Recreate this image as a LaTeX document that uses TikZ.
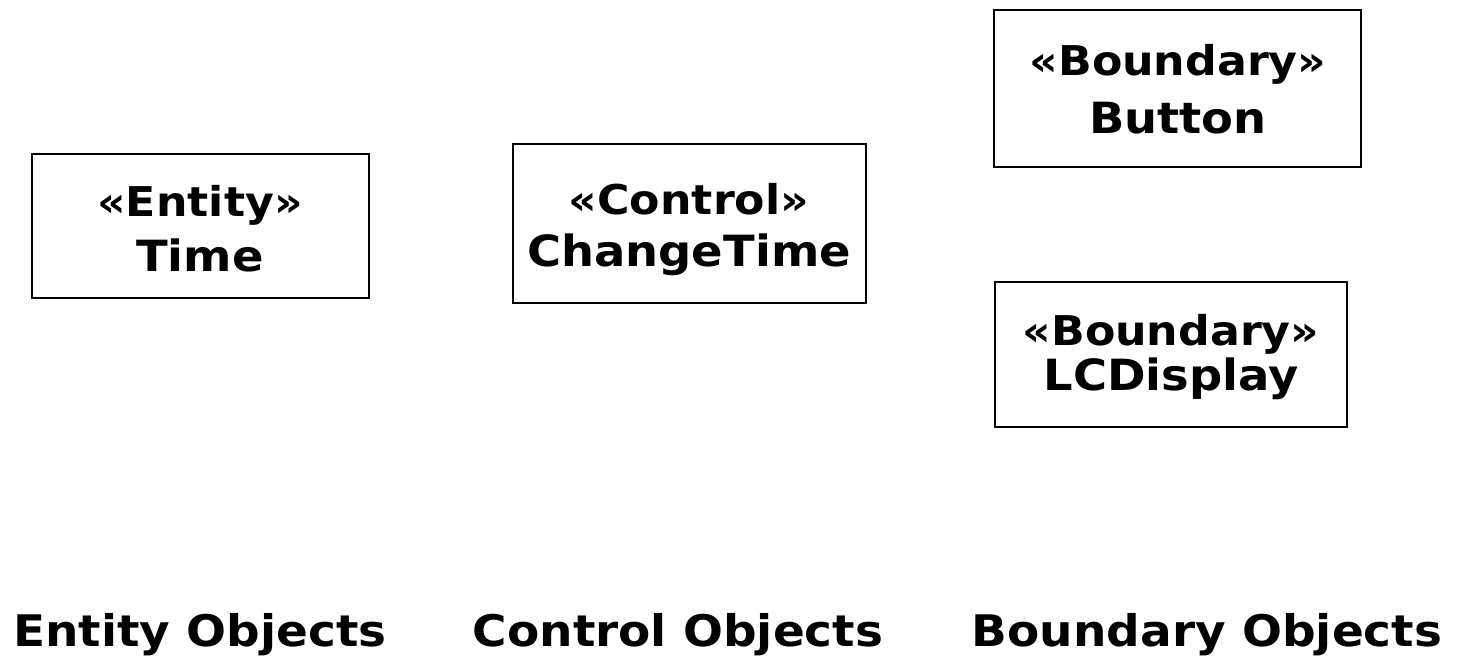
\documentclass[tikz,border=0pt]{standalone}
\usepackage{fontspec}
\setmainfont{DejaVu Sans}[FakeStretch=1.08]
\begin{document}
\begin{tikzpicture}[x=1pt,y=-1pt,
  classbox/.style={draw=black,line width=2.2pt,fill=white},
  stereo/.style={anchor=base,inner sep=0pt,font=\fontsize{41}{44}\selectfont\bfseries},
  cname/.style={anchor=base,inner sep=0pt,font=\fontsize{43}{46}\selectfont\bfseries},
  caption/.style={anchor=base,inner sep=0pt,font=\fontsize{43.5}{46}\selectfont\bfseries}]
\useasboundingbox[fill=white] (0,0) rectangle (1458,657);

% class boxes
\draw[classbox] (32,154) rectangle (369,298);
\draw[classbox] (513,144) rectangle (866,303);
\draw[classbox] (994,10) rectangle (1361,167);
\draw[classbox] (995,282) rectangle (1347,427);

% entity
\node[stereo] (entS) at (200,216) {«Entity»};
\node[cname] (entN) at (200,271) {Time};
% control
\node[stereo] (ctlS) at (689,214) {«Control»};
\node[cname] (ctlN) at (689,266) {ChangeTime};
% boundaries
\node[stereo] (btnS) at (1178,75) {«Boundary»};
\node[cname] (btnN) at (1178,133) {Button};
\node[stereo] (lcdS) at (1171,345) {«Boundary»};
\node[cname] (lcdN) at (1171,390) {LCDisplay};

% column captions
\node[caption] (capE) at (200,646) {Entity Objects};
\node[caption] (capC) at (678,646) {Control Objects};
\node[caption] (capB) at (1207,646) {Boundary Objects};
\end{tikzpicture}
\end{document}
